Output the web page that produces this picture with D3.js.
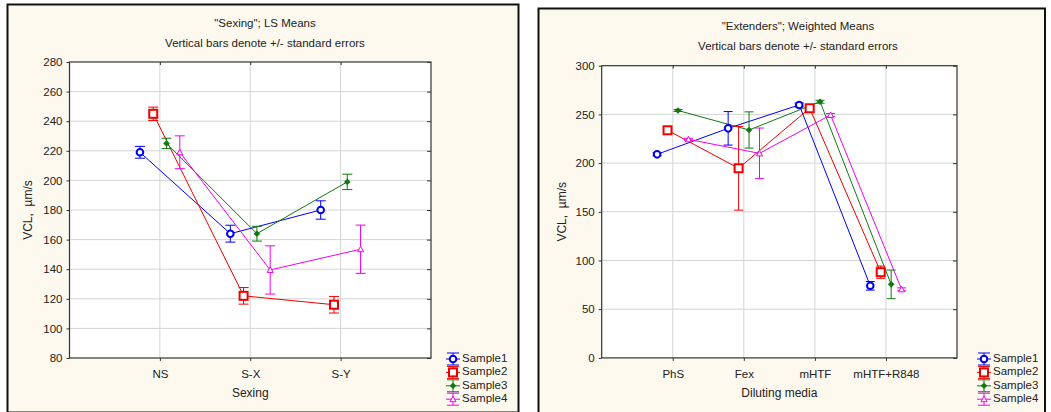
<!DOCTYPE html>
<html>
<head>
<meta charset="utf-8">
<script src="https://cdn.jsdelivr.net/npm/d3@7"></script>
<style>
  body { margin: 0; background: #fff; }
  svg { display: block; font-family: "Liberation Sans", Arial, sans-serif; }
</style>
</head>
<body>
<svg id="chart" width="1051" height="412"></svg>
<script>
const svg = d3.select("#chart");

const seriesNames = ["Sample1", "Sample2", "Sample3", "Sample4"];
const colors = ["#0000ee", "#ee0000", "#107a10", "#ee00ee"];

// left chart: "Sexing"
const sexCats = ["NS", "S-X", "S-Y"];
const sexMeans = [
  [219, 164, 180],
  [245, 122, 116],
  [225, 164, 199],
  [219, 139.5, 153.5]
];
const sexErr = [
  [4, 5.7, 6.2],
  [4.5, 5.6, 5.6],
  [3.5, 5, 5.2],
  [11.1, 16.3, 16.3]
];
const sexTicks = [80, 100, 120, 140, 160, 180, 200, 220, 240, 260, 280];

// right chart: "Extenders"
const extCats = ["PhS", "Fex", "mHTF", "mHTF+R848"];
const extMeans = [
  [209, 235.7, 259.7, 74],
  [233.7, 194.7, 256.3, 88],
  [254, 234, 263, 75.5],
  [224.4, 210, 249.4, 70.4]
];
const extErr = [
  [1.5, 17.2, 2, 4.4],
  [1.5, 43, 2, 6.3],
  [1, 18.6, 1.5, 14.7],
  [1, 26, 1.5, 1.5]
];
const extTicks = [0, 50, 100, 150, 200, 250, 300];

function marker(g, i, x, y) {
  const c = colors[i];
  if (i === 0) {
    g.append("circle").attr("cx", x).attr("cy", y).attr("r", 3.3)
      .attr("fill", "#fff").attr("stroke", c).attr("stroke-width", 2);
  } else if (i === 1) {
    g.append("rect").attr("x", x - 4).attr("y", y - 4).attr("width", 8).attr("height", 8)
      .attr("fill", "#fff").attr("stroke", c).attr("stroke-width", 2);
  } else if (i === 2) {
    g.append("path").attr("d", `M${x},${y - 3.3}L${x + 3.3},${y}L${x},${y + 3.3}L${x - 3.3},${y}Z`)
      .attr("fill", c);
  } else {
    g.append("path").attr("d", `M${x},${y - 3}L${x + 3},${y + 2.5}L${x - 3},${y + 2.5}Z`)
      .attr("fill", "#fff").attr("stroke", c).attr("stroke-width", 1);
  }
}

function drawPanel(cfg) {
  const g = svg.append("g");

  g.append("rect")
    .attr("x", cfg.frame[0]).attr("y", cfg.frame[1])
    .attr("width", cfg.frame[2]).attr("height", cfg.frame[3])
    .attr("fill", "#fdf9ef").attr("stroke", "#111").attr("stroke-width", 2);

  const x = d3.scalePoint().domain(cfg.cats).range([cfg.left, cfg.right]).padding(1);
  const y = d3.scaleLinear().domain(cfg.domain).range([cfg.bottom, cfg.top]);
  const step = x.step();

  g.append("rect")
    .attr("x", cfg.left).attr("y", cfg.top)
    .attr("width", cfg.right - cfg.left).attr("height", cfg.bottom - cfg.top)
    .attr("fill", "#fff");

  // grid
  g.selectAll(".hg").data(cfg.ticks.slice(1, -1)).enter().append("line")
    .attr("x1", cfg.left).attr("x2", cfg.right)
    .attr("y1", d => y(d)).attr("y2", d => y(d))
    .attr("stroke", "#d4d4d4");
  g.selectAll(".vg").data(cfg.cats).enter().append("line")
    .attr("x1", d => x(d)).attr("x2", d => x(d))
    .attr("y1", cfg.top).attr("y2", cfg.bottom)
    .attr("stroke", "#d4d4d4");

  // axes
  const yAxis = g.append("g").attr("transform", `translate(${cfg.left},0)`)
    .call(d3.axisLeft(y).tickValues(cfg.ticks).tickSize(3).tickPadding(4));
  yAxis.select(".domain").remove();
  yAxis.selectAll("line").attr("stroke", "#333");
  yAxis.selectAll("text").attr("font-size", "11.5px").attr("fill", "#222")
    .attr("font-family", "Liberation Sans, Arial, sans-serif");

  const yRight = g.append("g").attr("transform", `translate(${cfg.right},0)`)
    .call(d3.axisLeft(y).tickValues(cfg.ticks).tickSize(4).tickFormat(""));
  yRight.select(".domain").remove();
  yRight.selectAll("line").attr("stroke", "#333");

  const xAxis = g.append("g").attr("transform", `translate(0,${cfg.bottom})`)
    .call(d3.axisBottom(x).tickSize(3).tickPadding(9));
  xAxis.select(".domain").remove();
  xAxis.selectAll("line").attr("stroke", "#333");
  xAxis.selectAll("text").attr("font-size", "11.5px").attr("fill", "#222")
    .attr("font-family", "Liberation Sans, Arial, sans-serif");

  const xTop = g.append("g").attr("transform", `translate(0,${cfg.top})`)
    .call(d3.axisBottom(x).tickSize(3).tickFormat(""));
  xTop.select(".domain").remove();
  xTop.selectAll("line").attr("stroke", "#333");

  g.append("rect")
    .attr("x", cfg.left).attr("y", cfg.top)
    .attr("width", cfg.right - cfg.left).attr("height", cfg.bottom - cfg.top)
    .attr("fill", "none").attr("stroke", "#333").attr("stroke-width", 1.2);

  // series
  cfg.means.forEach((vals, i) => {
    const off = (i - 1.5) * 0.147 * step;
    const pts = vals.map((v, j) => [x(cfg.cats[j]) + off, y(v)]);
    g.append("path")
      .attr("d", d3.line()(pts))
      .attr("fill", "none").attr("stroke", colors[i]).attr("stroke-width", 1);
  });
  cfg.means.forEach((vals, i) => {
    const off = (i - 1.5) * 0.147 * step;
    vals.forEach((v, j) => {
      const cx = x(cfg.cats[j]) + off;
      const e = cfg.err[i][j];
      const y1 = y(v + e), y2 = y(v - e);
      const cw = cfg.cap;
      g.append("line").attr("x1", cx).attr("x2", cx).attr("y1", y1).attr("y2", y2)
        .attr("stroke", colors[i]);
      [y1, y2].forEach(yy => g.append("line")
        .attr("x1", cx - cw / 2).attr("x2", cx + cw / 2).attr("y1", yy).attr("y2", yy)
        .attr("stroke", colors[i]));
      marker(g, i, cx, y(v));
    });
  });

  // titles
  g.append("text").attr("x", cfg.titleX).attr("y", cfg.titleY)
    .attr("text-anchor", "middle").attr("font-size", "11.5px").attr("fill", "#222")
    .text(cfg.title);
  g.append("text").attr("x", cfg.titleX).attr("y", cfg.titleY + 20)
    .attr("text-anchor", "middle").attr("font-size", "11.5px").attr("fill", "#222")
    .text("Vertical bars denote +/- standard errors");

  g.append("text").attr("transform", `translate(${cfg.yLabelX},${(cfg.top + cfg.bottom) / 2}) rotate(-90)`)
    .attr("text-anchor", "middle").attr("dominant-baseline", "middle")
    .attr("font-size", "12px").attr("fill", "#222")
    .text("VCL,\u00a0\u00a0µm/s");
  g.append("text").attr("x", (cfg.left + cfg.right) / 2).attr("y", 397)
    .attr("text-anchor", "middle").attr("font-size", "12px").attr("fill", "#222")
    .text(cfg.xTitle);

  // legend
  seriesNames.forEach((name, i) => {
    const ly = 359 + i * 13.4;
    const lx = cfg.legendX;
    const c = colors[i];
    g.append("line").attr("x1", lx - 7).attr("x2", lx + 7).attr("y1", ly).attr("y2", ly).attr("stroke", c);
    g.append("line").attr("x1", lx).attr("x2", lx).attr("y1", ly - 6).attr("y2", ly + 6).attr("stroke", c);
    [ly - 6, ly + 6].forEach(yy => g.append("line")
      .attr("x1", lx - 6).attr("x2", lx + 6).attr("y1", yy).attr("y2", yy).attr("stroke", c));
    marker(g, i, lx, ly);
    g.append("text").attr("x", lx + 9).attr("y", ly).attr("dominant-baseline", "middle")
      .attr("font-size", "11.5px").attr("fill", "#222").text(name);
  });
}

drawPanel({
  frame: [7.5, 4.5, 511, 408],
  cats: sexCats, means: sexMeans, err: sexErr, ticks: sexTicks, domain: [80, 280],
  left: 69.5, right: 431, top: 62, bottom: 358,
  cap: 10,
  title: "\"Sexing\"; LS Means", titleX: 265, titleY: 27,
  yLabelX: 29, xTitle: "Sexing", legendX: 453
});

drawPanel({
  frame: [538.5, 8.5, 506.5, 406],
  cats: extCats, means: extMeans, err: extErr, ticks: extTicks, domain: [0, 300],
  left: 601.7, right: 957, top: 65.7, bottom: 357.9,
  cap: 9,
  title: "\"Extenders\"; Weighted Means", titleX: 798, titleY: 30,
  yLabelX: 563, xTitle: "Diluting media", legendX: 984
});
</script>
</body>
</html>
